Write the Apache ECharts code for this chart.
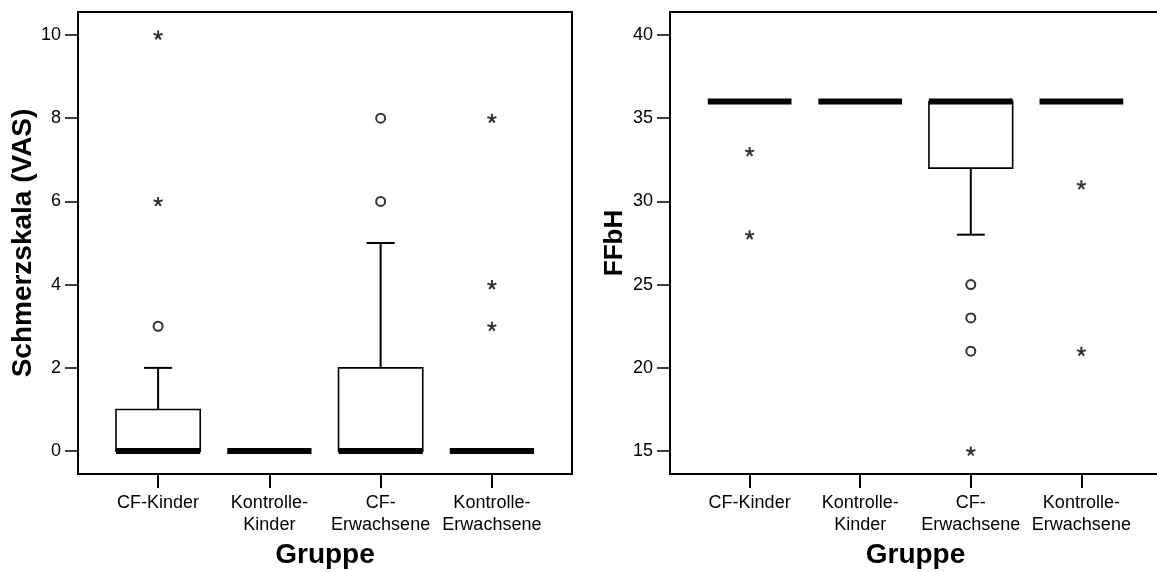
<!DOCTYPE html>
<html>
<head>
    <meta charset="UTF-8">
    <title>Schmerzskala / FFbH</title>
    <script src="https://cdn.jsdelivr.net/npm/echarts@6/dist/echarts.min.js"></script>
    <style>
        html, body { margin: 0; padding: 0; background: #fff; }
        #chart { width: 1157px; height: 572px; }
    </style>
</head>
<body>
<div id="chart"></div>
<script type="text/javascript">
    // Gruppen (x = 1..4)
    var groups = ['CF-Kinder', 'Kontrolle-\nKinder', 'CF-\nErwachsene', 'Kontrolle-\nErwachsene'];
    var groupPos = [1, 2, 3, 4];

    // Schmerzskala (VAS): [min, Q1, median, Q3, max] je Gruppe
    var vasBoxes = [[0, 0, 0, 1, 2], [0, 0, 0, 0, 0], [0, 0, 0, 2, 5], [0, 0, 0, 0, 0]];
    var vasCircles = [[1, 3], [3, 6], [3, 8]];          // Ausreisser (o)
    var vasStars = [[1, 6], [1, 10], [4, 3], [4, 4], [4, 8]];   // Extremwerte (*)
    var vasTicks = [0, 2, 4, 6, 8, 10];

    // FFbH
    var ffbhBoxes = [[36, 36, 36, 36, 36], [36, 36, 36, 36, 36], [28, 32, 36, 36, 36], [36, 36, 36, 36, 36]];
    var ffbhCircles = [[3, 21], [3, 23], [3, 25]];
    var ffbhStars = [[1, 28], [1, 33], [3, 15], [4, 21], [4, 31]];
    var ffbhTicks = [15, 20, 25, 30, 35, 40];

    var FONT = '"Liberation Sans", Arial, sans-serif';
    var STAR = 'path://M0 -5L0 0M0 0L4.8 -1.6M0 0L2.9 4M0 0L-2.9 4M0 0L-4.8 -1.6';

    function boxData(boxes) {
        return boxes.map(function (b, i) {
            return [groupPos[i]].concat(b);
        });
    }

    function renderBox(params, api) {
        var x = api.value(0);
        var lo = api.value(1), q1 = api.value(2), med = api.value(3), q3 = api.value(4), hi = api.value(5);
        var bw = api.size([0.757, 0])[0];
        var cw = bw / 3;
        var pLo = api.coord([x, lo]), pQ1 = api.coord([x, q1]), pMed = api.coord([x, med]);
        var pQ3 = api.coord([x, q3]), pHi = api.coord([x, hi]);
        var cx = pMed[0];
        var line = {stroke: '#000', lineWidth: 2};
        var kids = [];
        if (hi > q3) {
            kids.push({type: 'line', shape: {x1: cx, y1: pQ3[1], x2: cx, y2: pHi[1]}, style: line});
            kids.push({type: 'line', shape: {x1: cx - cw / 2, y1: pHi[1], x2: cx + cw / 2, y2: pHi[1]}, style: line});
        }
        if (lo < q1) {
            kids.push({type: 'line', shape: {x1: cx, y1: pQ1[1], x2: cx, y2: pLo[1]}, style: line});
            kids.push({type: 'line', shape: {x1: cx - cw / 2, y1: pLo[1], x2: cx + cw / 2, y2: pLo[1]}, style: line});
        }
        if (q3 > q1) {
            kids.push({
                type: 'rect',
                shape: {x: cx - bw / 2, y: pQ3[1], width: bw, height: pQ1[1] - pQ3[1]},
                style: {fill: '#fff', stroke: '#000', lineWidth: 1.6}
            });
        }
        kids.push({
            type: 'rect',
            shape: {x: cx - bw / 2, y: pMed[1] - 3, width: bw, height: 6},
            style: {fill: '#000'}
        });
        return {type: 'group', children: kids};
    }

    function xAxisFor(idx) {
        return {
            type: 'value', gridIndex: idx, min: 0.28, max: 4.72,
            name: 'Gruppe', nameLocation: 'middle', nameGap: 66,
            nameTextStyle: {fontFamily: FONT, fontSize: 28, fontWeight: 'bold', color: '#000'},
            axisLine: {show: false, onZero: false},
            axisTick: {show: true, customValues: groupPos, length: 14, lineStyle: {color: '#000', width: 2}},
            axisLabel: {
                customValues: groupPos, margin: 18, fontFamily: FONT, fontSize: 18, lineHeight: 22, color: '#000',
                formatter: function (v) { return groups[Math.round(v) - 1] || ''; }
            },
            splitLine: {show: false}
        };
    }

    function yAxisFor(idx, min, max, ticks, title, size, gap) {
        return {
            type: 'value', gridIndex: idx, min: min, max: max,
            name: title, nameLocation: 'middle', nameGap: gap, nameRotate: 90,
            nameTextStyle: {fontFamily: FONT, fontSize: size, fontWeight: 'bold', color: '#000'},
            axisLine: {show: false},
            axisTick: {show: true, customValues: ticks, length: 13, lineStyle: {color: '#000', width: 1.5}},
            axisLabel: {customValues: ticks, margin: 17, fontFamily: FONT, fontSize: 18, color: '#000'},
            splitLine: {show: false}
        };
    }

    function panelSeries(idx, boxes, circles, stars) {
        return [{
            type: 'custom', xAxisIndex: idx, yAxisIndex: idx,
            renderItem: renderBox, data: boxData(boxes), clip: false, z: 2
        }, {
            type: 'scatter', xAxisIndex: idx, yAxisIndex: idx, data: circles,
            symbol: 'circle', symbolSize: 9, z: 3,
            itemStyle: {color: '#fff', borderColor: '#000', borderWidth: 2}
        }, {
            type: 'scatter', xAxisIndex: idx, yAxisIndex: idx, data: stars,
            symbol: STAR, symbolSize: [9, 9], z: 3,
            itemStyle: {color: '#000', borderColor: '#000', borderWidth: 2}
        }];
    }

    var myChart = echarts.init(document.getElementById('chart'), null, {renderer: 'canvas'});
    myChart.setOption({
        animation: false,
        backgroundColor: '#fff',
        grid: [
            {left: 78, top: 12, width: 494, height: 462, outerBoundsMode: 'none',
                show: true, borderColor: '#000', borderWidth: 2},
            {left: 670, top: 12, width: 491, height: 462, outerBoundsMode: 'none',
                show: true, borderColor: '#000', borderWidth: 2}
        ],
        xAxis: [xAxisFor(0), xAxisFor(1)],
        yAxis: [
            yAxisFor(0, -0.55, 10.55, vasTicks, 'Schmerzskala (VAS)', 28, 33),
            yAxisFor(1, 13.62, 41.38, ffbhTicks, 'FFbH', 26, 42)
        ],
        series: panelSeries(0, vasBoxes, vasCircles, vasStars)
            .concat(panelSeries(1, ffbhBoxes, ffbhCircles, ffbhStars))
    });
</script>
</body>
</html>
